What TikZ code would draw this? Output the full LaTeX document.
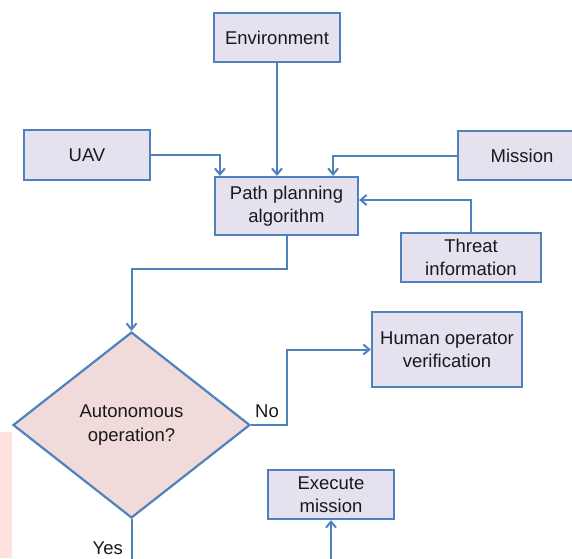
\documentclass[tikz,border=0pt]{standalone}
\usepackage{fontspec}
\setmainfont{Liberation Sans}
\usepackage{tikz}
\usetikzlibrary{positioning}
\usetikzlibrary{calc}
\usetikzlibrary{arrows.meta}
\usetikzlibrary{shapes.geometric}
\definecolor{edgeblue}{RGB}{79,129,189}
\definecolor{boxfill}{RGB}{229,225,238}
\definecolor{decfill}{RGB}{240,218,218}
\definecolor{stripfill}{RGB}{253,226,222}
\definecolor{textgray}{RGB}{25,25,25}

\begin{document}
\begin{tikzpicture}[
		x=1pt, y=-1pt,
		every node/.style = {
			align=center,
			text=textgray,
			font=\fontsize{18.5}{23.5}\selectfont
		},
		block/.style = {
			shape=rectangle,
			draw=edgeblue,
			line width=2.2pt,
			fill=boxfill,
			inner sep=0pt
		},
		decision/.style = {
			shape=diamond,
			draw=edgeblue,
			line width=2.2pt,
			fill=decfill,
			inner sep=0pt,
			aspect=1.27,
			minimum width=237pt,
			minimum height=186pt
		},
		link/.style={-{Straight Barb[length=6pt,width=10pt]}, draw=edgeblue, line width=2pt},
		plain/.style={draw=edgeblue, line width=2pt}
		]
		\clip (0,0) rectangle (572,558);
		\fill[stripfill] (0,432) rectangle (12,558);
		\node[block, minimum width=126pt, minimum height=49pt] (env) at (277,37.5) {Environment};
		\node[block, minimum width=126pt, minimum height=50pt] (uav) at (87,155) {UAV};
		\node[block, minimum width=128pt, minimum height=49pt] (mission) at (522,155.5) {Mission};
		\node[block, minimum width=143pt, minimum height=58pt] (plan) at (286.5,206) {Path planning\\algorithm};
		\node[block, minimum width=140pt, minimum height=49pt] (threat) at (471,257.5) {Threat\\information};
		\node[decision] (auto) at (131.5,425) {Autonomous\\operation?};
		\node[block, minimum width=150pt, minimum height=75pt] (human) at (447,349.5) {Human operator\\verification};
		\node[block, minimum width=126pt, minimum height=49pt] (exec) at (331,494.5) {Execute\\mission};
		\coordinate (yesend) at (131.5,560);
		\coordinate (execin) at (331,560);

		\draw[link] (env.south) -- (env.south |- plan.north);
		\draw[link] (uav.east) -| ([xshift=6pt]plan.north west);
		\draw[link] (mission.west) -| ([xshift=-26pt]plan.north east);
		\draw[link] (threat.north) |- ([yshift=6pt]plan.east);
		\draw[link] (plan.south) -- ++(0,33) -| (auto.north);
		\draw[link] (auto.east) -- ++(36,0) |- (human.west);
		\node[anchor=south west, inner sep=0pt] (nolabel) at (255,418) {No};
		\draw[plain] (auto.south) -- (yesend);
		\node[anchor=east, inner sep=0pt] (yeslabel) at (123,548) {Yes};
		\draw[link] (execin) -- (exec.south);
	\end{tikzpicture}
\end{document}
